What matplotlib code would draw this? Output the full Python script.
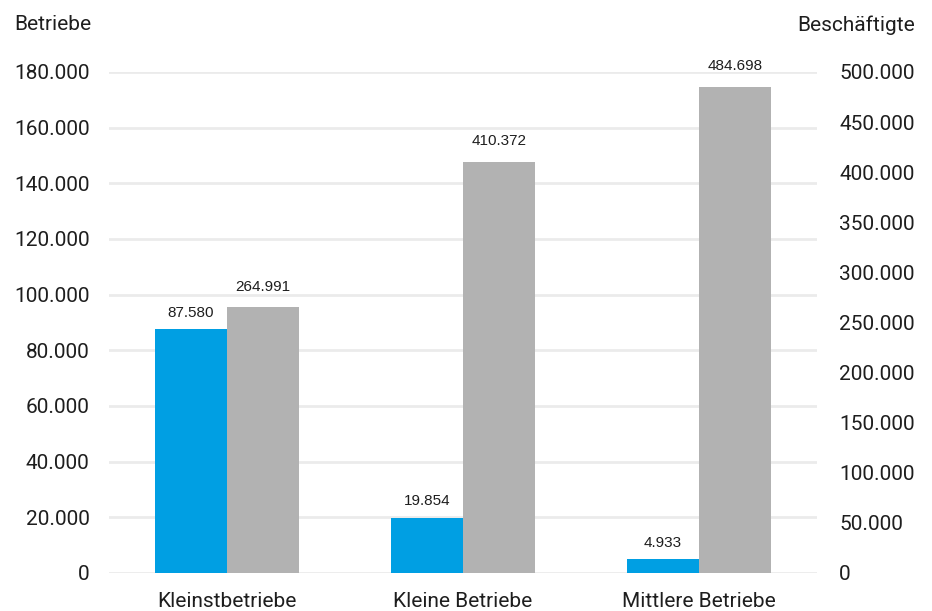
import matplotlib.pyplot as plt
import numpy as np

# Betriebe (linke Achse) und Beschäftigte (rechte Achse) je Größenklasse
categories = ["Kleinstbetriebe", "Kleine Betriebe", "Mittlere Betriebe"]
betriebe = [87580, 19854, 4933]
beschaeftigte = [264991, 410372, 484698]

left_ticks = list(range(0, 180001, 20000))
right_ticks = list(range(0, 500001, 50000))

BLUE = "#009FE3"
GREY = "#B2B2B2"
TEXT = "#1E1E1E"
GRID = "#EBEBEB"


def de_format(value):
    """Zahl mit Punkt als Tausendertrennzeichen."""
    return f"{value:,.0f}".replace(",", ".")


plt.rcParams["font.family"] = ["Roboto", "DejaVu Sans"]

fig = plt.figure(figsize=(9.32, 6.11), dpi=100)
ax = fig.add_axes([0.117, 0.0622, 0.7596, 0.8200])
ax2 = ax.twinx()

x = np.arange(len(categories))
width = 0.305

ax.bar(x - width / 2, betriebe, width, color=BLUE, zorder=2)
ax2.bar(x + width / 2, beschaeftigte, width, color=GREY, zorder=2)

ax.set_xlim(-0.5, len(categories) - 0.5)
ax.set_ylim(0, 180000)
ax2.set_ylim(0, 500000)

ax.set_axisbelow(True)
ax.set_yticks(left_ticks)
ax.set_yticklabels([de_format(v) for v in left_ticks])
ax.grid(axis="y", color=GRID, linewidth=2)
ax.set_xticks(x)
ax.set_xticklabels(categories)

ax2.set_yticks(right_ticks)
ax2.set_yticklabels([de_format(v) for v in right_ticks], ha="left")

ax.tick_params(axis="y", length=0, pad=14, labelsize=15, labelcolor=TEXT)
ax.tick_params(axis="x", length=0, pad=14, labelsize=15, labelcolor=TEXT)
ax2.tick_params(axis="y", length=0, pad=16, labelsize=15, labelcolor=TEXT)

for axis in (ax, ax2):
    for spine in axis.spines.values():
        spine.set_visible(False)

# Wertebeschriftungen über den Balken
label_font = dict(ha="center", va="center", fontsize=11, color=TEXT,
                  family=["Liberation Sans", "DejaVu Sans"])
for xi, value in zip(x, betriebe):
    ax.annotate(de_format(value), (xi - width / 2, value),
                xytext=(0, 12), textcoords="offset points", **label_font)
for xi, value in zip(x, beschaeftigte):
    ax2.annotate(de_format(value), (xi + width / 2, value),
                 xytext=(0, 15), textcoords="offset points", **label_font)

fig.text(14 / 932, 1 - 25 / 611, "Betriebe", ha="left", va="center",
         fontsize=15, color=TEXT)
fig.text(915 / 932, 1 - 25 / 611, "Beschäftigte", ha="right", va="center",
         fontsize=15, color=TEXT)

fig.savefig("out.png", dpi=100)
